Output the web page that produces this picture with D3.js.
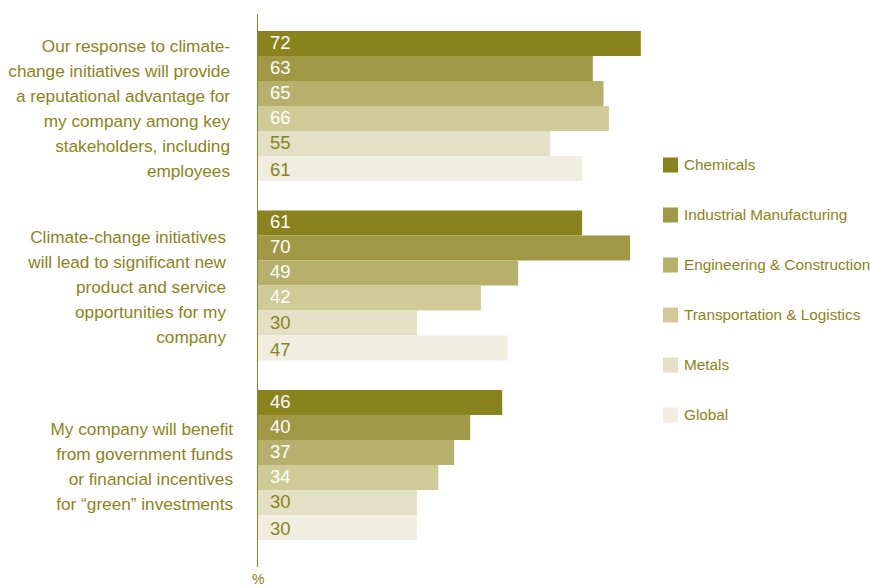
<!DOCTYPE html>
<html>
<head>
<meta charset="utf-8">
<script src="https://cdn.jsdelivr.net/npm/d3@7"></script>
<style>
	body { margin: 0; background: #fff; }
	text { font-family: "Liberation Sans", Arial, sans-serif; }
</style>
</head>
<body>
<script>
const questions = ["reputation", "opportunities", "funds"];

const questionLines = [
	["Our response to climate-", "change initiatives will provide", "a reputational advantage for", "my company among key", "stakeholders, including", "employees"],
	["Climate-change initiatives", "will lead to significant new", "product and service", "opportunities for my", "company"],
	["My company will benefit", "from government funds", "or financial incentives", "for \u201cgreen\u201d investments"]
];

const sectors = ["Chemicals", "Industrial Manufacturing", "Engineering & Construction", "Transportation & Logistics", "Metals", "Global"];

const chemicals = [72, 61, 46];
const industrialManufacturing = [63, 70, 40];
const engineeringConstruction = [65, 49, 37];
const transportationLogistics = [66, 42, 34];
const metals = [55, 30, 30];
const global = [61, 47, 30];

const seriesValues = [chemicals, industrialManufacturing, engineeringConstruction, transportationLogistics, metals, global];

const sectorColors = ["#8a821c", "#a09845", "#b7b06c", "#cfca96", "#e4e0c5", "#f0eee0"];
const labelColors = ["#fff", "#fff", "#fff", "#fff", "#8a8420", "#8a8420"];
const olive = "#8a8420";

function drawChart() {
	const width = 870;
	const height = 588;

	const svg = d3.select("body")
		.append("svg")
		.attr("width", width)
		.attr("height", height);

	const scaleX = d3.scaleLinear().domain([0, 100]).range([257, 790]);
	const scaleGroup = d3.scaleBand().domain(questions).range([31, 540]).paddingInner(0.164);
	const scaleBar = d3.scaleBand().domain(sectors).range([0, scaleGroup.bandwidth()]);

	const groups = svg.selectAll("g.group")
		.data(questions)
		.enter()
		.append("g")
		.attr("class", "group")
		.attr("transform", d => `translate(0,${scaleGroup(d)})`);

	groups.each(function(q, qi) {
		const g = d3.select(this);
		const rows = sectors.map((s, si) => ({sector: s, value: seriesValues[si][qi], index: si}));

		g.selectAll("rect")
			.data(rows)
			.enter()
			.append("rect")
			.attr("x", scaleX(0))
			.attr("y", d => scaleBar(d.sector))
			.attr("width", d => scaleX(d.value) - scaleX(0))
			.attr("height", scaleBar.bandwidth())
			.attr("fill", d => sectorColors[d.index]);

		g.selectAll("text.value")
			.data(rows)
			.enter()
			.append("text")
			.attr("class", "value")
			.attr("x", scaleX(0) + 13)
			.attr("y", d => scaleBar(d.sector) + scaleBar.bandwidth() / 2 + (d.index === 5 ? 7.5 : 5.5))
			.attr("font-size", 18.5)
			.attr("fill", d => labelColors[d.index])
			.text(d => d.value);

		// question label, right aligned, centred on the group
		const lines = questionLines[qi];
		const mid = scaleGroup.bandwidth() / 2;
		const labelRight = [230, 226, 233][qi];
		g.append("text")
			.attr("text-anchor", "end")
			.attr("font-size", 17.2)
			.attr("fill", olive)
			.selectAll("tspan")
			.data(lines)
			.enter()
			.append("tspan")
			.attr("x", labelRight)
			.attr("y", (d, i) => mid - (lines.length - 1) * 12.5 + i * 25 + 8)
			.text(d => d);
	});

	svg.append("line")
		.attr("x1", scaleX(0) + 0.5)
		.attr("x2", scaleX(0) + 0.5)
		.attr("y1", 14)
		.attr("y2", 567)
		.attr("stroke", olive)
		.attr("stroke-width", 1);

	svg.append("text")
		.attr("x", scaleX(0) - 5)
		.attr("y", 584)
		.attr("font-size", 14)
		.attr("fill", olive)
		.text("%");

	// legend
	const legend = svg.selectAll("g.legend")
		.data(sectors)
		.enter()
		.append("g")
		.attr("class", "legend")
		.attr("transform", (d, i) => `translate(663,${157.5 + i * 50})`);

	legend.append("rect")
		.attr("width", 15)
		.attr("height", 15)
		.attr("fill", (d, i) => sectorColors[i]);

	legend.append("text")
		.attr("x", 21)
		.attr("y", 12.5)
		.attr("font-size", 15.3)
		.attr("fill", olive)
		.text(d => d);
}

drawChart();
</script>
</body>
</html>
